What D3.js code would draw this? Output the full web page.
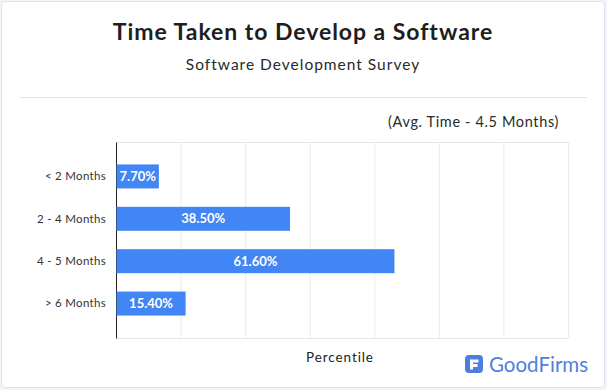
<!DOCTYPE html>
<html>
<head>
<meta charset="utf-8">
<script src="https://cdn.jsdelivr.net/npm/d3@7"></script>
<style>
  html, body { margin: 0; padding: 0; background: #f1f4f9; }
  svg { display: block; font-family: Lato, "Open Sans", sans-serif; }
</style>
</head>
<body>
<script>
// data
const categories = ["< 2 Months", "2 - 4 Months", "4 - 5 Months", "> 6 Months"];
const percents = [7.7, 38.5, 61.6, 15.4];
const valueLabels = ["7.70%", "38.50%", "61.60%", "15.40%"];
const gridSteps = 7;
const title = "Time Taken to Develop a Software";
const subtitle = "Software Development Survey";
const note = "(Avg. Time - 4.5 Months)";
const axisTitle = "Percentile";

const width = 607;
const height = 390;
const plot = { left: 116, right: 568, top: 142, bottom: 338 };

// Lato is narrower than the original face, so spread letters to a target width
function spread(sel, target) {
    const node = sel.node()
    const n = node.getNumberOfChars()
    const w = node.getComputedTextLength()
    sel.attr("letter-spacing", ((target - w) / n).toFixed(2))
    return sel
}

const svg = d3.select("body").append("svg")
    .attr("width", width)
    .attr("height", height)

// card
svg.append("rect")
    .attr("x", 1.5).attr("y", 1.5)
    .attr("width", width - 4).attr("height", height - 4)
    .attr("rx", 4)
    .attr("fill", "#fff")
    .attr("stroke", "#dde3ec")

spread(svg.append("text")
    .attr("x", 303).attr("y", 40)
    .attr("text-anchor", "middle")
    .attr("font-size", 23).attr("font-weight", 700)
    .attr("fill", "#1e1e1e")
    .text(title), 380)

spread(svg.append("text")
    .attr("x", 303).attr("y", 70)
    .attr("text-anchor", "middle")
    .attr("font-size", 15.5)
    .attr("fill", "#2a2a2a")
    .text(subtitle), 234)

svg.append("line")
    .attr("x1", 20).attr("x2", 587)
    .attr("y1", 97.5).attr("y2", 97.5)
    .attr("stroke", "#dfe3e8")

spread(svg.append("text")
    .attr("x", 559).attr("y", 127)
    .attr("text-anchor", "end")
    .attr("font-size", 14.5)
    .attr("fill", "#2a2a2a")
    .text(note), 171)

// scales
const x = d3.scaleLinear().domain([0, 100]).range([plot.left, plot.right])
const y = d3.scaleBand()
    .domain(categories)
    .range([plot.top, plot.bottom])
    .paddingInner(0.434)
    .paddingOuter(0.53)

// grid
const gridValues = d3.range(gridSteps + 1).map(i => 100 * i / gridSteps)
const xGrid = d3.axisBottom(x)
    .tickValues(gridValues)
    .tickSize(-(plot.bottom - plot.top))
    .tickFormat("")
svg.append("g")
    .attr("transform", `translate(0, ${plot.bottom})`)
    .call(xGrid)
    .call(g => g.select(".domain").remove())
    .call(g => g.selectAll("line").attr("stroke", "#ebebeb"))

svg.append("line")
    .attr("x1", plot.left).attr("x2", plot.right)
    .attr("y1", plot.top + 0.5).attr("y2", plot.top + 0.5)
    .attr("stroke", "#e6e6e6")
svg.append("line")
    .attr("x1", plot.left).attr("x2", plot.right)
    .attr("y1", plot.bottom + 0.5).attr("y2", plot.bottom + 0.5)
    .attr("stroke", "#e6e6e6")

// y axis
const yAxis = d3.axisLeft(y).tickSize(0).tickPadding(10)
svg.append("g")
    .attr("transform", `translate(${plot.left}, 0)`)
    .call(yAxis)
    .call(g => g.select(".domain").attr("stroke", "#222"))
    .call(g => g.selectAll("text")
        .attr("font-size", 11.5)
        .attr("font-family", "Lato, sans-serif")
        .attr("fill", "#333")
        .attr("letter-spacing", 0.3))

// bars
const bars = svg.append("g").selectAll("g")
    .data(percents)
    .enter()
    .append("g")

const rects = bars.append("rect")
    .attr("x", x(0) + 0.5)
    .attr("y", (d, i) => y(categories[i]))
    .attr("height", y.bandwidth())
    .attr("fill", "#4285f4")

const labels = bars.append("text")
    .attr("y", (d, i) => y(categories[i]) + y.bandwidth() / 2)
    .attr("dy", "0.36em")
    .attr("text-anchor", "middle")
    .attr("font-size", 13)
    .attr("font-weight", 700)
    .attr("fill", "#fff")
    .text((d, i) => valueLabels[i])

// short bars get stretched so the label fits
labels.each(function (d, i) {
    const tw = this.getComputedTextLength()
    const w = Math.max(x(d) - x(0) - 0.5, tw + 6)
    d3.select(rects.nodes()[i]).attr("width", w)
    d3.select(this).attr("x", x(0) + 0.5 + w / 2)
})

spread(svg.append("text")
    .attr("x", 340).attr("y", 362)
    .attr("text-anchor", "middle")
    .attr("font-size", 13.5)
    .attr("fill", "#222")
    .text(axisTitle), 68)

// logo
const logo = svg.append("g").attr("transform", "translate(465, 355)")
logo.append("rect")
    .attr("width", 18).attr("height", 18).attr("rx", 4)
    .attr("fill", "#4a7fe0")
logo.append("path")
    .attr("d", "M5 4.5 H13.5 V7.5 H8 V9 H12.5 V12 H8 V14.5 H5 Z")
    .attr("fill", "#fff")
svg.append("text")
    .attr("x", 489).attr("y", 372)
    .attr("font-size", 20.5)
    .attr("fill", "#4f80dc")
    .text("GoodFirms")
</script>
</body>
</html>
